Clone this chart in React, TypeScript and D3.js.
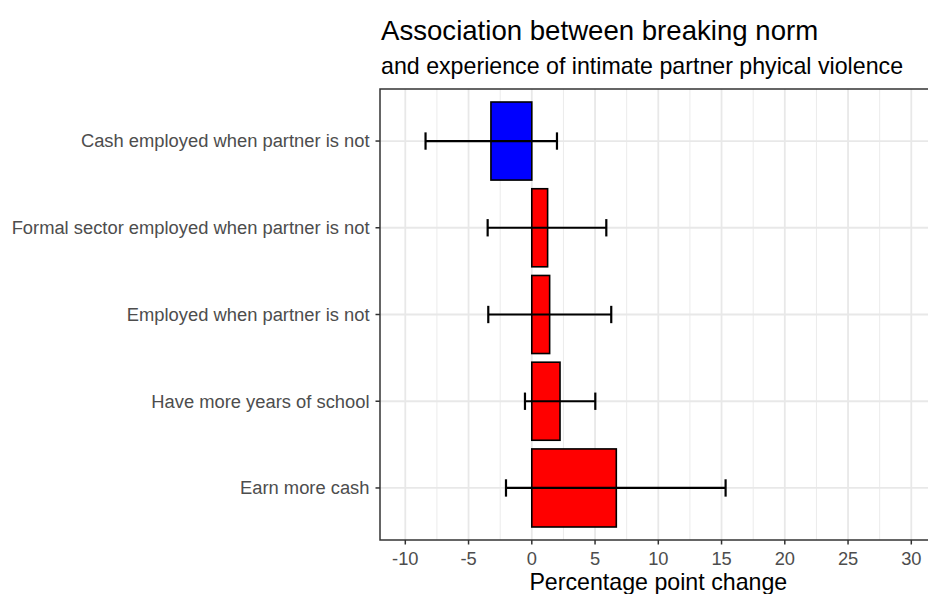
import React from "react";
import * as d3 from "d3";

const categories = [
  "Cash employed when partner is not",
  "Formal sector employed when partner is not",
  "Employed when partner is not",
  "Have more years of school",
  "Earn more cash",
];
const estimates = [-3.23, 1.25, 1.41, 2.23, 6.68];
const lowerCI = [-8.4, -3.49, -3.44, -0.54, -2.04];
const upperCI = [1.99, 5.89, 6.28, 5.02, 15.32];
const xTicks = [-10, -5, 0, 5, 10, 15, 20, 25, 30];
const xMinor = [-7.5, -2.5, 2.5, 7.5, 12.5, 17.5, 22.5, 27.5];
const title = "Association between breaking norm";
const subtitle = "and experience of intimate partner phyical violence";
const xTitle = "Percentage point change";

const W = 928;
const H = 594;
const panel = { left: 380, right: 936.6, top: 89, bottom: 540 };
const FONT = "'Liberation Sans', Arial, Helvetica, sans-serif";

export default function App() {
  const x = d3.scaleLinear().domain([-12, 32]).range([panel.left, panel.right]);
  const y = d3
    .scalePoint<string>()
    .domain(categories)
    .range([panel.top, panel.bottom])
    .padding(0.6);
  const step = y.step();
  const barH = step * 0.9;
  const capH = step * 0.2;
  const grey = "#4D4D4D";

  return (
    <svg
      width={W}
      height={H}
      style={{ position: "absolute", left: 0, top: 0, background: "#fff" }}
      fontFamily={FONT}
    >
      <rect x={0} y={0} width={W} height={H} fill="#fff" />
      <text x={381} y={40} fontSize={27.6} fill="#000">
        {title}
      </text>
      <text x={381} y={74} fontSize={23.2} fill="#000">
        {subtitle}
      </text>
      {/* panel */}
      <rect
        x={panel.left}
        y={panel.top}
        width={panel.right - panel.left}
        height={panel.bottom - panel.top}
        fill="#fff"
      />
      {xMinor.map((v) => (
        <line
          key={"mi" + v}
          x1={x(v)}
          x2={x(v)}
          y1={panel.top}
          y2={panel.bottom}
          stroke="#EBEBEB"
          strokeWidth={1}
        />
      ))}
      {xTicks.map((v) => (
        <line
          key={"ma" + v}
          x1={x(v)}
          x2={x(v)}
          y1={panel.top}
          y2={panel.bottom}
          stroke="#E8E8E8"
          strokeWidth={1.8}
        />
      ))}
      {categories.map((c) => (
        <line
          key={"hy" + c}
          x1={panel.left}
          x2={panel.right}
          y1={y(c)}
          y2={y(c)}
          stroke="#E8E8E8"
          strokeWidth={1.8}
        />
      ))}
      {categories.map((c, i) => {
        const v = estimates[i];
        const x0 = x(Math.min(0, v));
        const x1 = x(Math.max(0, v));
        return (
          <rect
            key={"b" + c}
            x={x0}
            y={(y(c) as number) - barH / 2}
            width={x1 - x0}
            height={barH}
            fill={v < 0 ? "#0000FF" : "#FF0000"}
            stroke="#000"
            strokeWidth={1.6}
          />
        );
      })}
      {categories.map((c, i) => {
        const cy = y(c) as number;
        return (
          <g key={"e" + c} stroke="#000" strokeWidth={2.2}>
            <line x1={x(lowerCI[i])} x2={x(upperCI[i])} y1={cy} y2={cy} />
            <line x1={x(lowerCI[i])} x2={x(lowerCI[i])} y1={cy - capH / 2} y2={cy + capH / 2} />
            <line x1={x(upperCI[i])} x2={x(upperCI[i])} y1={cy - capH / 2} y2={cy + capH / 2} />
          </g>
        );
      })}
      <rect
        x={panel.left}
        y={panel.top}
        width={panel.right - panel.left}
        height={panel.bottom - panel.top}
        fill="none"
        stroke="#333333"
        strokeWidth={1.5}
      />
      {/* y axis */}
      {categories.map((c) => (
        <g key={"yl" + c}>
          <line
            x1={panel.left - 4.5}
            x2={panel.left}
            y1={y(c)}
            y2={y(c)}
            stroke="#333333"
            strokeWidth={1.5}
          />
          <text
            x={panel.left - 10.5}
            y={y(c)}
            dy="0.35em"
            textAnchor="end"
            fontSize={18.35}
            fill={grey}
          >
            {c}
          </text>
        </g>
      ))}
      {/* x axis */}
      {xTicks.map((v) => (
        <g key={"xl" + v}>
          <line
            x1={x(v)}
            x2={x(v)}
            y1={panel.bottom}
            y2={panel.bottom + 4.5}
            stroke="#333333"
            strokeWidth={1.5}
          />
          <text
            x={x(v)}
            y={panel.bottom + 25}
            textAnchor="middle"
            fontSize={18.3}
            fill={grey}
          >
            {v}
          </text>
        </g>
      ))}
      <text
        x={(panel.left + panel.right) / 2}
        y={590}
        textAnchor="middle"
        fontSize={23.2}
        fill="#000"
      >
        {xTitle}
      </text>
    </svg>
  );
}
